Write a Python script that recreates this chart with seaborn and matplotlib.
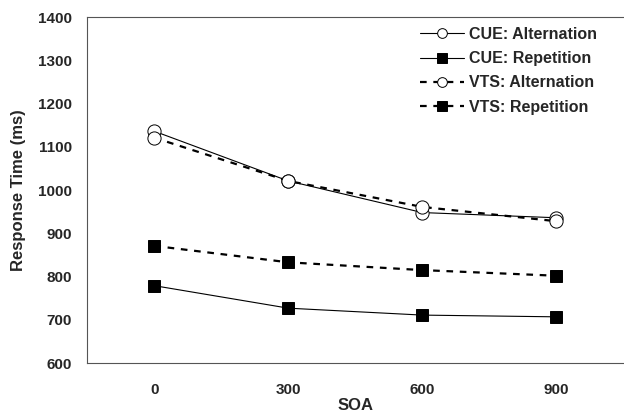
import pandas as pd
import matplotlib
matplotlib.use("Agg")
import matplotlib.pyplot as plt
import seaborn as sns

sns.set_style("white")
plt.rcParams['font.family'] = ['Liberation Sans', 'DejaVu Sans']
plt.rcParams['font.weight'] = 'bold'

# SOA categories and mean response times (ms)
soa = ['0', '300', '600', '900']
cue_alt = [1136, 1021, 948, 936]
cue_rep = [779, 727, 711, 707]
vts_alt = [1121, 1021, 961, 928]
vts_rep = [871, 833, 815, 802]

series = [
    ('CUE: Alternation', cue_alt, 'o', 'white', '-', 0.8),
    ('CUE: Repetition', cue_rep, 's', 'black', '-', 0.8),
    ('VTS: Alternation', vts_alt, 'o', 'white', (0, (3, 3)), 1.6),
    ('VTS: Repetition', vts_rep, 's', 'black', (0, (3, 3)), 1.6),
]

fig = plt.figure(figsize=(6.24, 4.15), dpi=100)
ax = fig.add_axes([0.14, 0.125, 0.859, 0.834])

for name, vals, mk, fc, ls, lw in series:
    df = pd.DataFrame({'SOA': soa, 'RT': vals})
    sns.lineplot(data=df, x='SOA', y='RT', ax=ax, color='black', marker=mk,
                 markersize=9.5 if mk == 'o' else 8, markerfacecolor=fc,
                 markeredgecolor='black', markeredgewidth=0.7,
                 linestyle=ls, linewidth=lw, label=name)

ax.set_xlim(-0.5, 3.5)
ax.set_ylim(600, 1400)
ax.set_yticks(range(600, 1401, 100))
ax.set_xticks(range(len(soa)))
ax.set_xticklabels(soa)
ax.set_xticks([0.5, 1.5, 2.5], minor=True)
ax.tick_params(axis='x', which='major', length=0, labelsize=11, pad=14)
ax.tick_params(axis='x', which='minor', length=5, width=0.8, color='#555555', direction='out')
ax.tick_params(axis='y', length=6, width=0.8, color='#555555', direction='out', labelsize=11, pad=5)
for lab in ax.get_xticklabels() + ax.get_yticklabels():
    lab.set_fontweight('bold')

for s in ['left', 'bottom', 'top']:
    ax.spines[s].set_color('#555555')
    ax.spines[s].set_linewidth(0.8)
ax.spines['right'].set_visible(False)

ax.set_xlabel('SOA', fontsize=12, fontweight='bold', labelpad=1)
ax.set_ylabel('Response Time (ms)', fontsize=12, fontweight='bold', labelpad=9)

leg = ax.legend(loc='upper left', bbox_to_anchor=(0.608, 0.99), frameon=False,
                handlelength=2.8, fontsize=11.5, borderaxespad=0, labelspacing=0.58,
                handletextpad=0.3)
for t in leg.get_texts():
    t.set_fontweight('bold')
for h in leg.legend_handles:
    h.set_markersize(7)

fig.savefig('out.png', dpi=100)
